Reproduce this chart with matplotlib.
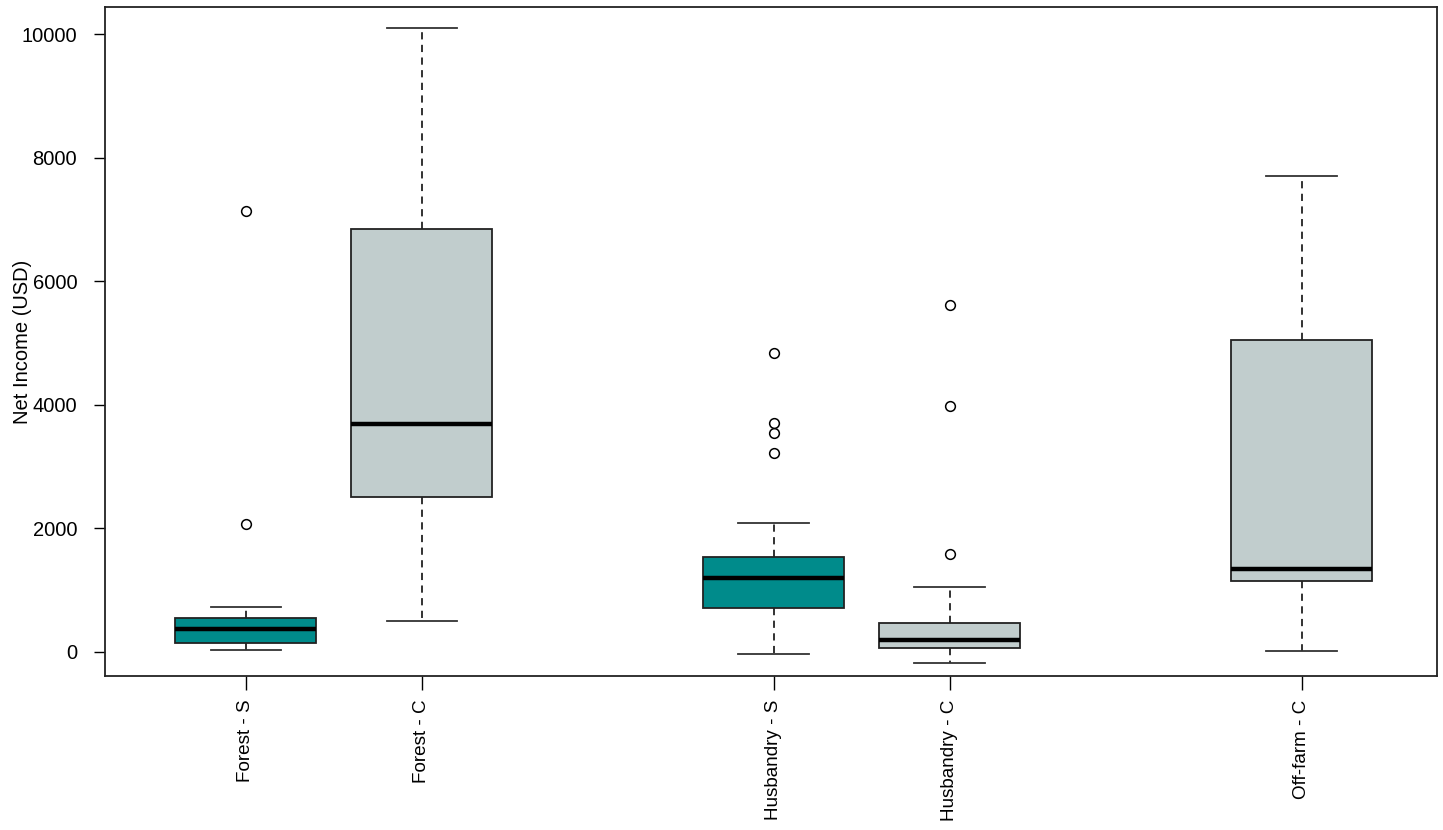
import matplotlib
matplotlib.use("Agg")
import matplotlib.pyplot as plt

plt.rcParams['font.family'] = ['Liberation Sans', 'DejaVu Sans']

# Summary statistics per income source (USD)
labels = ['Forest - S', 'Forest - C', 'Husbandry - S', 'Husbandry - C', 'Off-farm - C']
positions = [1, 2, 4, 5, 7]
whisker_low = [30, 500, -30, -180, 15]
q1 = [145, 2510, 710, 65, 1145]
median = [375, 3685, 1195, 195, 1340]
q3 = [550, 6850, 1535, 470, 5055]
whisker_high = [730, 10100, 2080, 1050, 7705]
outliers = [
    [2070, 7140],
    [],
    [3215, 3540, 3700, 4845],
    [1585, 3975, 5620],
    [],
]
box_colors = ['#008B8B', '#C1CDCD', '#008B8B', '#C1CDCD', '#C1CDCD']

stats = []
for i, lab in enumerate(labels):
    stats.append({
        'label': lab,
        'whislo': whisker_low[i],
        'q1': q1[i],
        'med': median[i],
        'q3': q3[i],
        'whishi': whisker_high[i],
        'fliers': outliers[i],
    })

fig = plt.figure(figsize=(14.43, 8.30), dpi=100)
ax = fig.add_axes([105 / 1443, 1 - 676 / 830, 1332 / 1443, 669 / 830])

bp = ax.bxp(
    stats,
    positions=positions,
    widths=0.8,
    patch_artist=True,
    boxprops=dict(edgecolor='#222222', linewidth=1.3),
    medianprops=dict(color='black', linewidth=3.2),
    whiskerprops=dict(color='#222222', linewidth=1.3, linestyle=(0, (4, 3))),
    capprops=dict(color='#333333', linewidth=1.3),
    flierprops=dict(marker='o', markerfacecolor='white', markeredgecolor='black',
                    markersize=7, markeredgewidth=1.1),
    capwidths=0.4,
)
for patch, c in zip(bp['boxes'], box_colors):
    patch.set_facecolor(c)

ax.set_xlim(0.2, 7.77)
ax.set_ylim(-390, 10440)
ax.set_yticks([0, 2000, 4000, 6000, 8000, 10000])
ax.set_xticks(positions)
ax.set_xticklabels(labels, rotation=90, fontsize=13.6, va='top')
ax.tick_params(axis='y', labelsize=14.5, length=8, width=1.0, pad=12)
ax.tick_params(axis='x', length=10, width=1.0, pad=7)
ax.set_ylabel('Net Income (USD)', fontsize=14.5)
ax.yaxis.set_label_coords(-0.0548, 0.5)

for sp in ax.spines.values():
    sp.set_linewidth(1.3)
    sp.set_color('#222222')

fig.savefig('out.png', dpi=100)
